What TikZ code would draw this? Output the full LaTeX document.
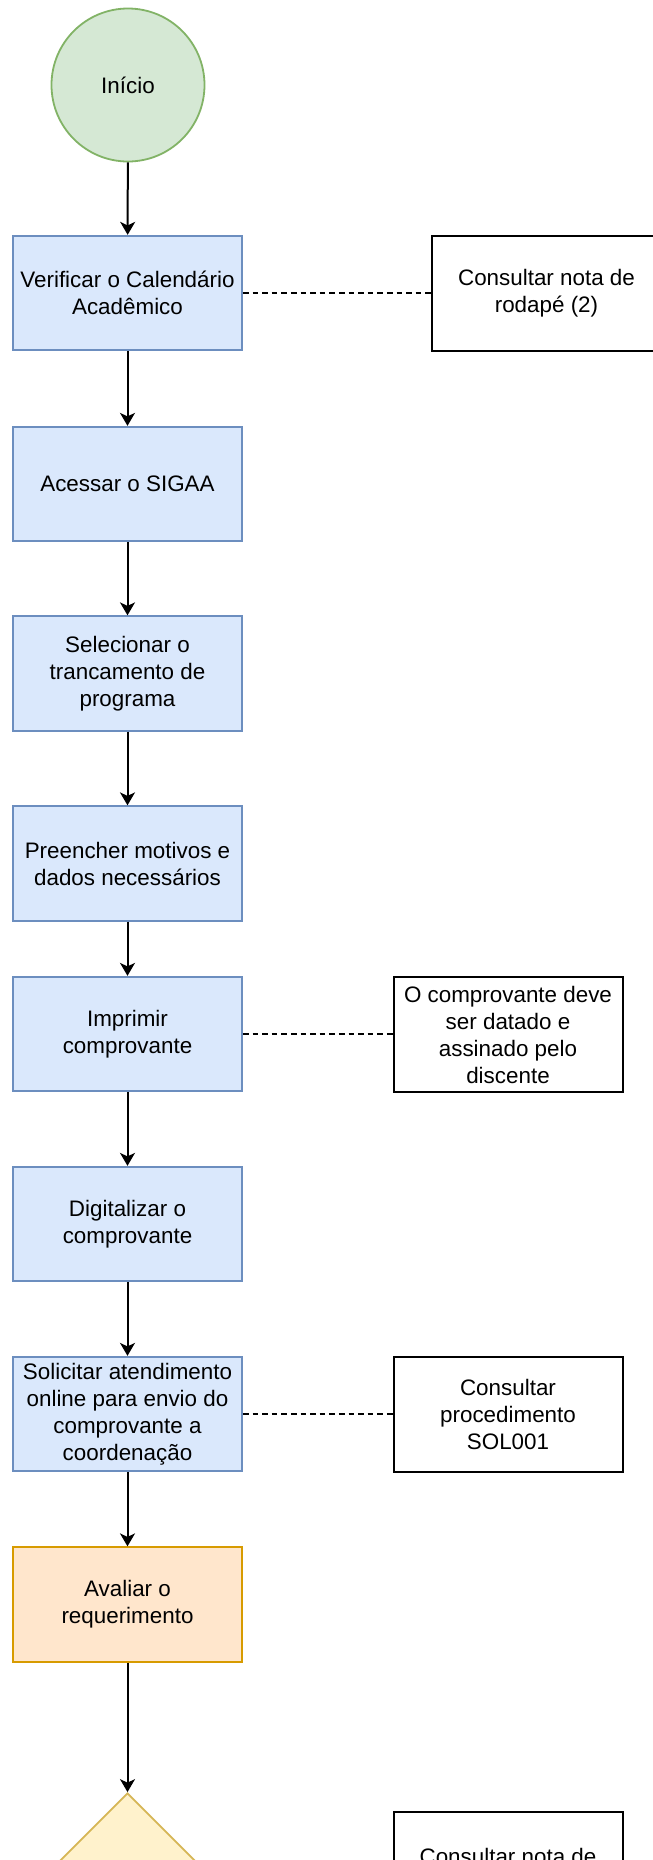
\documentclass[tikz,border=0pt]{standalone}
\usepackage{fontspec}
\setmainfont{Liberation Sans}
\usetikzlibrary{shapes.geometric,arrows.meta}
\definecolor{bluefill}{HTML}{DAE8FC}
\definecolor{blueline}{HTML}{6C8EBF}
\definecolor{greenfill}{HTML}{D5E8D4}
\definecolor{greenline}{HTML}{82B366}
\definecolor{orangefill}{HTML}{FFE6CC}
\definecolor{orangeline}{HTML}{D79B00}
\definecolor{yellowfill}{HTML}{FFF2CC}
\definecolor{yellowline}{HTML}{D6B656}
\tikzset{
  lbl/.style={font=\fontsize{11.2pt}{13.5pt}\selectfont, align=center, text=black},
  stepbox/.style={lbl, draw=blueline, fill=bluefill, line width=0.9pt, rectangle,
    minimum width=114.5pt, minimum height=57.25pt, inner sep=0pt},
  evalbox/.style={stepbox, draw=orangeline, fill=orangefill},
  notebox/.style={lbl, draw=black, fill=white, line width=1pt, rectangle,
    minimum width=114.5pt, minimum height=57.5pt, inner sep=0pt},
  startnode/.style={lbl, circle, draw=greenline, fill=greenfill, line width=0.9pt,
    minimum size=76.5pt, inner sep=0pt},
  decision/.style={diamond, aspect=1, draw=yellowline, fill=yellowfill, line width=0.9pt,
    minimum width=114.5pt, minimum height=114.5pt, inner sep=0pt},
  flow/.style={draw=black, line width=1pt, -{Stealth[length=6.5pt,width=7.5pt,inset=1.8pt]}},
  link/.style={draw=black, line width=0.9pt, dash pattern=on 2.8pt off 2pt}
}
\begin{document}
\begin{tikzpicture}[x=0.5pt, y=-0.5pt]
\useasboundingbox (0,0) rectangle (653,1860);
\clip (0,0) rectangle (653,1860);
\fill[white] (0,0) rectangle (653,1860);

\node[startnode] (start) at (128,85) {Início};
\node[stepbox] (b1) at (127.5,293) {Verificar o Calendário\\Acadêmico};
\node[stepbox] (b2) at (127.5,484) {Acessar o SIGAA};
\node[stepbox] (b3) at (127.5,673.5) {Selecionar o\\trancamento de\\programa};
\node[stepbox] (b4) at (127.5,863.5) {Preencher motivos e\\dados necessários};
\node[stepbox] (b5) at (127.5,1034) {Imprimir\\comprovante};
\node[stepbox] (b6) at (127.5,1224) {Digitalizar o\\comprovante};
\node[stepbox] (b7) at (127.5,1414) {Solicitar atendimento\\online para envio do\\comprovante a\\coordenação};
\node[evalbox] (b8) at (127.5,1604.5) {Avaliar o\\requerimento};
\node[decision] (d1) at (127.5,1907.5) {};

\node[notebox] (n1) at (546.5,293.5) {Consultar nota de\\rodapé (2)};
\node[notebox] (n2) at (508,1034.5) {O comprovante deve\\ser datado e\\assinado pelo\\discente};
\node[notebox] (n3) at (508,1414.5) {Consultar\\procedimento\\SOL001};
\node[notebox] (n4) at (508,1869.5) {Consultar nota de\\\mbox{}};

\draw[flow] (start) -- (b1);
\draw[flow] (b1) -- (b2);
\draw[flow] (b2) -- (b3);
\draw[flow] (b3) -- (b4);
\draw[flow] (b4) -- (b5);
\draw[flow] (b5) -- (b6);
\draw[flow] (b6) -- (b7);
\draw[flow] (b7) -- (b8);
\draw[flow] (b8) -- (d1.north);

\draw[link] (b1.east) -- (n1.west |- b1.east);
\draw[link] (b5.east) -- (n2.west |- b5.east);
\draw[link] (b7.east) -- (n3.west |- b7.east);
\end{tikzpicture}
\end{document}
